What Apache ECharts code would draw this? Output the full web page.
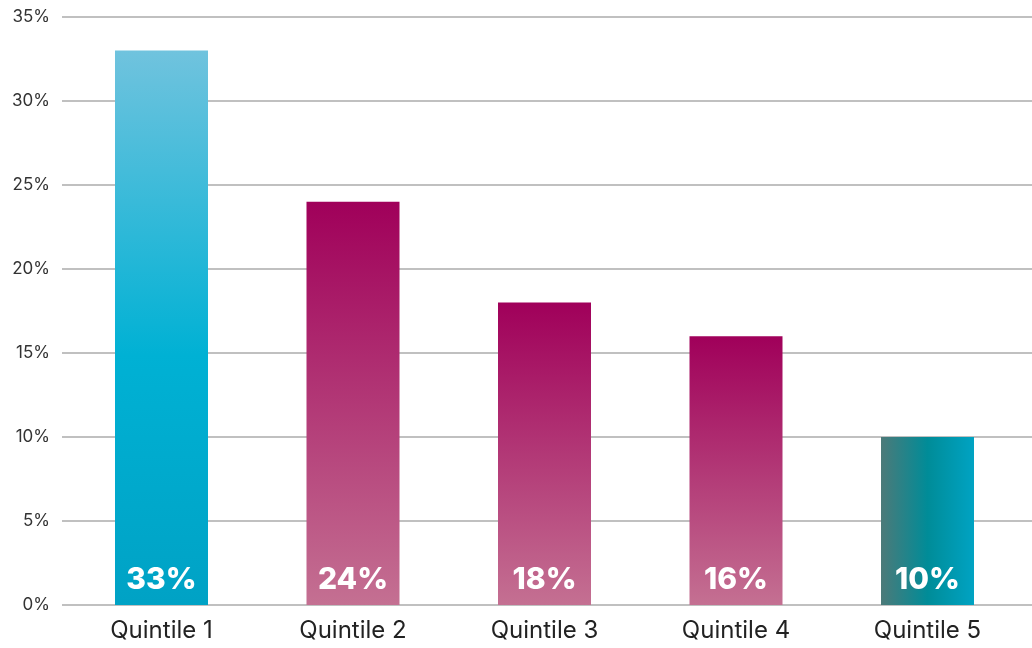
<!DOCTYPE html>
<html>
<head>
<meta charset="utf-8">
<script src="https://cdn.jsdelivr.net/npm/echarts@6/dist/echarts.min.js"></script>
<style>
  html, body { margin: 0; padding: 0; background: #ffffff; }
  #chart { width: 1032px; height: 648px; }
</style>
</head>
<body>
<div id="chart"></div>
<script>
// Share of households by income quintile
const categories = ['Quintile 1', 'Quintile 2', 'Quintile 3', 'Quintile 4', 'Quintile 5'];
const shares = [33, 24, 18, 16, 10];
const yTicks = { min: 0, max: 35, step: 5 };

const FONT = 'Inter, Lato, sans-serif';

// Fill for each bar
const vGrad = (stops) => new echarts.graphic.LinearGradient(0, 0, 0, 1, stops);
const hGrad = (stops) => new echarts.graphic.LinearGradient(0, 0, 1, 0, stops);

const blueFill = vGrad([
  { offset: 0, color: '#70c3de' },
  { offset: 0.55, color: '#00b1d4' },
  { offset: 1, color: '#00a2c5' }
]);
const magentaFill = () => vGrad([
  { offset: 0, color: '#a0005a' },
  { offset: 1, color: '#c47092' }
]);
const tealFill = hGrad([
  { offset: 0, color: '#4c7a79' },
  { offset: 0.5, color: '#008c98' },
  { offset: 1, color: '#00a3c3' }
]);
const fills = [blueFill, magentaFill(), magentaFill(), magentaFill(), tealFill];

const chart = echarts.init(document.getElementById('chart'), null, { renderer: 'canvas' });

chart.setOption({
  animation: false,
  backgroundColor: '#ffffff',
  grid: [
    // gridlines and y labels span to the right edge
    { left: 62, right: 0, top: 17, bottom: 43, containLabel: false },
    // bars
    { left: 65.75, right: 8.75, top: 17, bottom: 43, containLabel: false }
  ],
  xAxis: [
    { gridIndex: 0, type: 'value', min: 0, max: 1, show: false },
    {
      gridIndex: 1,
      type: 'category',
      data: categories,
      axisLine: { show: false },
      axisTick: { show: false },
      axisLabel: {
        color: '#222222',
        fontSize: 24,
        fontFamily: FONT,
        margin: 14
      }
    }
  ],
  yAxis: [
    {
      gridIndex: 0,
      type: 'value',
      min: yTicks.min,
      max: yTicks.max,
      interval: yTicks.step,
      axisLine: { show: false },
      axisTick: { show: false },
      axisLabel: {
        formatter: '{value}%',
        color: '#333333',
        fontSize: 17,
        fontFamily: FONT,
        margin: 12
      },
      splitLine: { lineStyle: { color: '#ababab', width: 1.5 } }
    },
    {
      gridIndex: 1,
      type: 'value',
      min: yTicks.min,
      max: yTicks.max,
      interval: yTicks.step,
      show: false,
      splitLine: { show: false }
    }
  ],
  series: [
    {
      type: 'bar',
      xAxisIndex: 1,
      yAxisIndex: 1,
      barWidth: 93,
      data: shares.map((v, i) => ({ value: v, itemStyle: { color: fills[i] } })),
      label: {
        show: true,
        position: 'insideBottom',
        distance: 10,
        formatter: '{c}%',
        color: '#ffffff',
        fontSize: 30,
        fontWeight: 800,
        fontFamily: FONT
      }
    }
  ]
});
</script>
</body>
</html>
